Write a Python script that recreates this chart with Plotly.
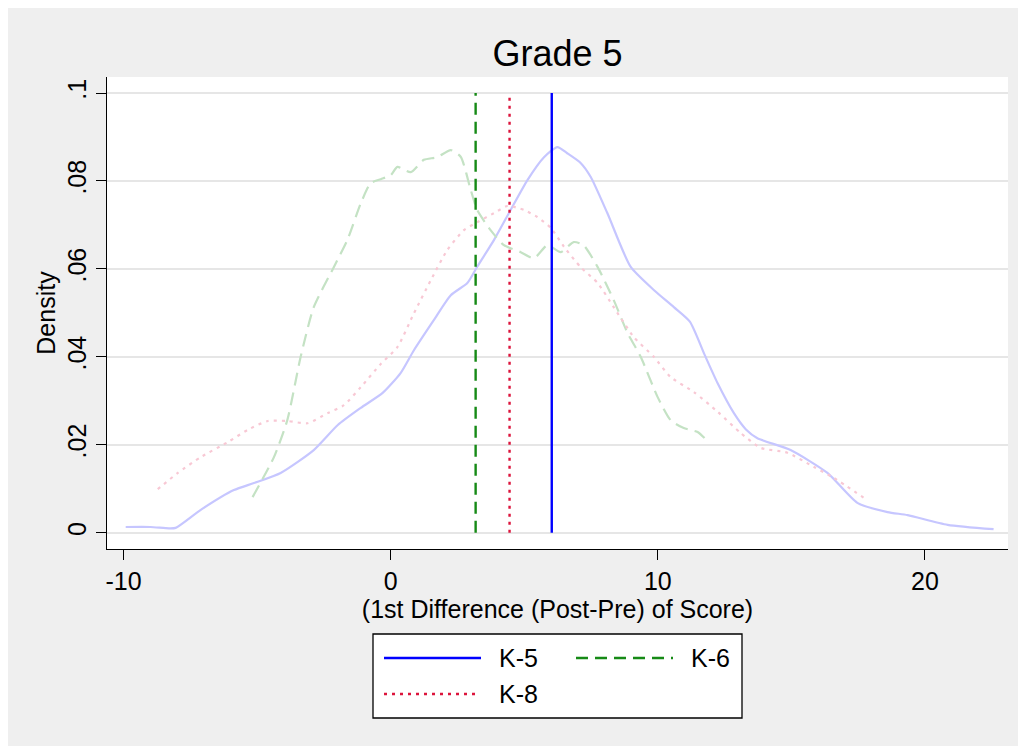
import plotly.graph_objects as go

# ---------------- data ----------------
k5_x = [-9.92, -9.0, -8.3, -8.05, -7.11, -5.87, -5.12, -4.12, -2.88, -1.98, -1.12, -0.3, 0.37, 0.87,
        1.62, 2.25, 2.87, 3.24, 3.87, 4.49, 5.12, 5.74, 6.24, 6.61, 7.11, 7.49, 8.11, 8.98, 9.85,
        10.6, 11.2, 11.75, 12.24, 12.85, 13.3, 13.73, 14.97, 16.35, 17.47, 18.6, 19.35, 20.85, 22.57]
k5_y = [0.0013, 0.0013, 0.0010, 0.0011, 0.0052, 0.0097, 0.0113, 0.0136, 0.0188, 0.0245, 0.0284,
        0.0318, 0.0363, 0.0415, 0.0484, 0.0540, 0.0568, 0.0605, 0.0666, 0.0734, 0.0802, 0.0854,
        0.0877, 0.0863, 0.0841, 0.0809, 0.0727, 0.0605, 0.0552, 0.0513, 0.0480, 0.0405, 0.0340,
        0.0272, 0.0235, 0.0215, 0.0188, 0.0136, 0.0068, 0.0047, 0.0040, 0.0018, 0.0008]

k6_x = [-5.17, -4.37, -3.87, -3.37, -2.88, -2.13, -1.62, -1.12, -0.75, -0.37, 0.0, 0.25, 0.75,
        1.24, 1.74, 2.25, 2.62, 3.0, 3.24, 3.74, 4.24, 4.87, 5.36, 5.87, 6.36, 6.85, 7.22, 7.75,
        8.35, 8.87, 9.36, 9.99, 10.48, 10.97, 11.49, 11.9]
k6_y = [0.0081, 0.0172, 0.0256, 0.0400, 0.0513, 0.0604, 0.0666, 0.0749, 0.0795, 0.0804, 0.0813,
        0.0832, 0.0820, 0.0848, 0.0854, 0.0870, 0.0855, 0.0779, 0.0734, 0.0688, 0.0654, 0.0638,
        0.0624, 0.0654, 0.0638, 0.0661, 0.0654, 0.0604, 0.0529, 0.0454, 0.0400, 0.0309, 0.0256,
        0.0238, 0.0229, 0.0206]

k8_x = [-8.72, -7.97, -7.11, -6.1, -5.35, -4.6, -3.86, -3.11, -2.36, -1.75, -1.12, -0.37, 0.25,
        0.87, 1.5, 2.12, 2.74, 3.24, 3.87, 4.37, 4.99, 5.49, 6.0, 6.49, 7.11, 7.75, 8.35, 9.1,
        9.85, 10.48, 11.35, 12.24, 13.1, 13.85, 14.85, 15.83, 16.58, 17.7]
k8_y = [0.0099, 0.0136, 0.0172, 0.0206, 0.0234, 0.0254, 0.0254, 0.0249, 0.0272, 0.0290, 0.0331,
        0.0384, 0.0422, 0.0499, 0.0574, 0.0643, 0.0688, 0.0706, 0.0727, 0.0743, 0.0734, 0.0718,
        0.0693, 0.0650, 0.0604, 0.0568, 0.0513, 0.0445, 0.0400, 0.0354, 0.0320, 0.0275, 0.0227,
        0.0193, 0.0182, 0.0150, 0.0125, 0.0080]

series_names = ["K-5", "K-6", "K-8"]
mean_values = [6.03, 3.18, 4.45]
mean_tops = [0.1, 0.1, 0.099]

x_tickvals = [-10, 0, 10, 20]
x_ticktext = ["-10", "0", "10", "20"]
y_tickvals = [0, 0.02, 0.04, 0.06, 0.08, 0.1]
y_ticktext = ["0", ".02", ".04", ".06", ".08", ".1"]

title_text = "Grade 5"
x_title = "(1st Difference (Post-Pre) of Score)"
y_title = "Density"

# ---------------- styles ----------------
FONT = "Liberation Sans, Arial, Helvetica, sans-serif"
OFF = 8                      # page body margin in the browser
W, H = 1021 - OFF, 746 - OFF  # grey area ends at 1021 x 746 on screen
PL, PR, PT, PB = 107, 1008, 77, 549   # plot area on screen
L, T = PL - OFF, PT - OFF
PW, PH = PR - PL, PB - PT
R, B = W - L - PW, H - T - PH

dark_colors = ["#0000ff", "#168a16", "#dc143c"]
light_colors = ["rgb(198,198,255)", "rgb(196,226,196)", "rgb(248,200,212)"]
curve_dash = ["solid", "13px,7px", "3px,5px"]
mean_dash = ["solid", "12px,7px", "3px,5px"]


def px_x(p):
    return (p - PL) / PW


def px_y(p):
    return (PB - p) / PH


fig = go.Figure()

curves = [(k5_x, k5_y), (k6_x, k6_y), (k8_x, k8_y)]
for i, (xs, ys) in enumerate(curves):
    fig.add_trace(go.Scatter(
        x=xs, y=ys, mode="lines", name=series_names[i] + " density",
        line=dict(color=light_colors[i], width=2.2, dash=curve_dash[i],
                  shape="spline", smoothing=0.6),
        showlegend=False, hoverinfo="x+y"))

for i in range(3):
    fig.add_trace(go.Scatter(
        x=[mean_values[i], mean_values[i]], y=[0, mean_tops[i]], mode="lines",
        name=series_names[i],
        line=dict(color=dark_colors[i], width=2.4, dash=mean_dash[i]),
        showlegend=False))

# ---------------- manual legend (Stata style) ----------------
shapes = []
annotations = []
shapes.append(dict(type="rect", xref="paper", yref="paper",
                   x0=px_x(373), x1=px_x(742), y0=px_y(718), y1=px_y(634),
                   line=dict(color="black", width=1.3), fillcolor="white", layer="above"))
legend_items = [
    (0, 384, 481, 658, 497),
    (1, 576, 673, 658, 689),
    (2, 384, 480, 694, 497),
]
for idx, lx0, lx1, ly, tx in legend_items:
    shapes.append(dict(type="line", xref="paper", yref="paper",
                       x0=px_x(lx0), x1=px_x(lx1), y0=px_y(ly), y1=px_y(ly),
                       line=dict(color=dark_colors[idx], width=2.4, dash=mean_dash[idx]),
                       layer="above"))
    annotations.append(dict(text=series_names[idx], xref="paper", yref="paper",
                            x=px_x(tx), y=px_y(ly), xanchor="left", yanchor="middle",
                            showarrow=False, font=dict(family=FONT, size=25, color="black")))

fig.update_layout(
    width=W, height=H,
    margin=dict(l=L, r=R, t=T, b=B, pad=0),
    paper_bgcolor="#efefef",
    plot_bgcolor="white",
    font=dict(family=FONT, size=25, color="black"),
    title=dict(text=title_text, x=0.5, xref="paper", xanchor="center",
               y=1 - (53 - OFF) / H, yref="container", yanchor="middle",
               font=dict(family=FONT, size=36, color="black")),
    showlegend=False,
    shapes=shapes,
    annotations=annotations,
)

fig.update_xaxes(
    range=[-10.62, 23.11], tickvals=x_tickvals, ticktext=x_ticktext,
    showgrid=False, zeroline=False,
    showline=True, linecolor="black", linewidth=1.3,
    ticks="outside", ticklen=10, tickwidth=1.3, tickcolor="black",
    tickfont=dict(family=FONT, size=25, color="black"),
    title=dict(text=x_title, font=dict(family=FONT, size=25, color="black"), standoff=0),
)
fig.update_yaxes(
    range=[-0.0037, 0.10364], tickvals=y_tickvals, ticktext=y_ticktext,
    showgrid=True, gridcolor="#e6e6e6", gridwidth=1.8, zeroline=False,
    showline=True, linecolor="black", linewidth=1.3,
    ticks="outside", ticklen=10, tickwidth=1.3, tickcolor="black",
    tickangle=-90,
    tickfont=dict(family=FONT, size=25, color="black"),
    title=dict(text=y_title, font=dict(family=FONT, size=25, color="black"), standoff=0),
)

fig.write_html("out.html")
